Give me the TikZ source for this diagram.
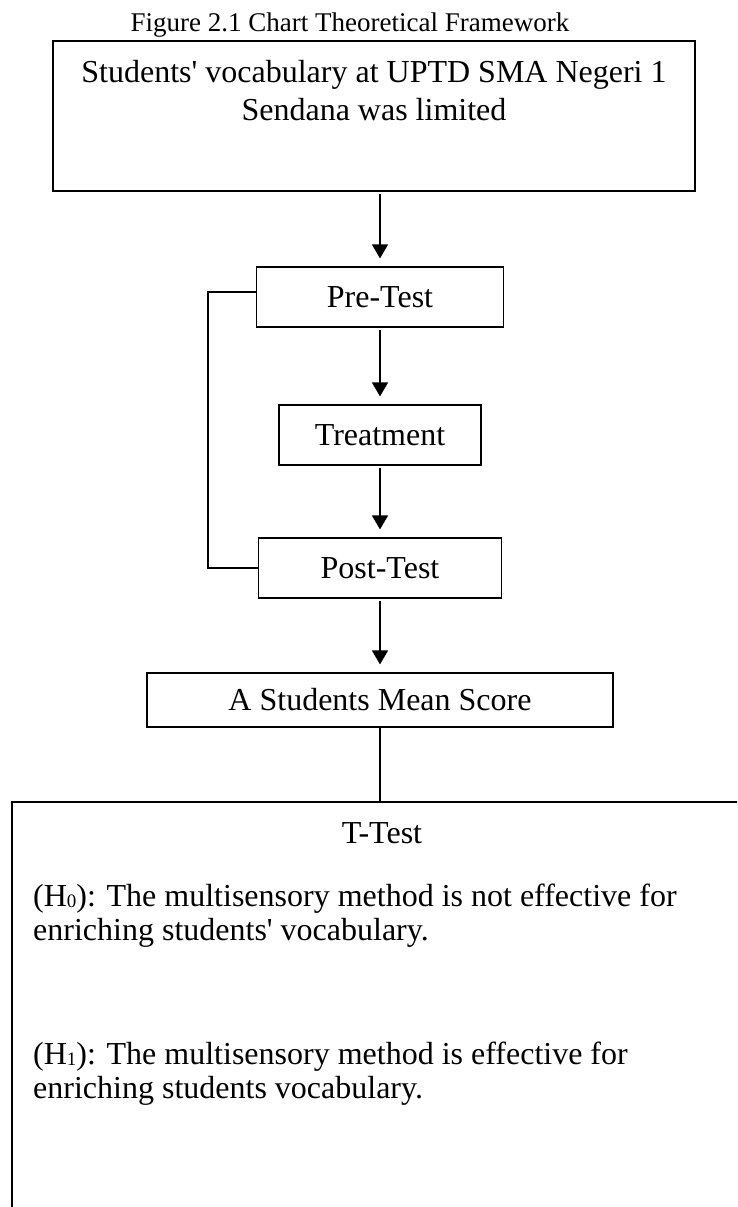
\documentclass[tikz,border=0pt]{standalone}
\usepackage{fontspec}
\setmainfont{Liberation Serif}
\usetikzlibrary{arrows.meta}
\newcommand*\hsub[1]{\raisebox{-1pt}{\fontsize{19}{19}\selectfont#1}}

\begin{document}
\begin{tikzpicture}[x=1pt, y=-1pt,
		box/.style={draw, line width=1.2pt, inner sep=0pt, font=\fontsize{32}{38}\selectfont},
		txt/.style={inner sep=0pt, font=\fontsize{32}{34}\selectfont},
		arr/.style={line width=1.4pt, -{Triangle[length=14pt, width=16pt]}, shorten <=2pt, shorten >=8pt},
		ln/.style={line width=1.4pt}]
				\useasboundingbox (0,0) rectangle (737,1207);
				\clip (0,0) rectangle (737,1207);

				% Title
				\node[txt, font=\fontsize{27}{32}\selectfont, anchor=base] (title) at (350,32) {Figure 2.1 Chart Theoretical Framework};

				% Problem
				\node[box, minimum width=642, minimum height=150] (problem) at (374,116) {};
				\node[txt, font=\fontsize{32}{38}\selectfont, align=center, anchor=north] (problemtext) at (374,60) {Students\textquotesingle{} vocabulary at UPTD SMA Negeri 1\\Sendana was limited};

				% Steps
				\node[box, minimum width=247, minimum height=60] (pre) at (380,297) {Pre-Test};
				\node[box, minimum width=202, minimum height=60] (treat) at (380,435) {Treatment};
				\node[box, minimum width=243, minimum height=60] (post) at (380,568) {Post-Test};
				\node[box, minimum width=466, minimum height=54] (mean) at (380,700) {A Students Mean Score};

				% T-Test
				\node[box, minimum width=768, minimum height=440] (ttest) at (396,1022) {};
				\node[txt, anchor=base] (ttesttitle) at (382,843) {T-Test};
				\node[txt, align=left, anchor=north west] (hnull) at (33,884) {(H\hsub{0}): The multisensory method is not effective for\\enriching students\textquotesingle{} vocabulary.};
				\node[txt, align=left, anchor=north west] (halt) at (33,1042) {(H\hsub{1}): The multisensory method is effective for\\enriching students vocabulary.};

				% Arrows
				\draw[arr] (pre.north |- problem.south) -- (pre.north);
				\draw[arr] (pre.south) -- (treat.north);
				\draw[arr] (treat.south) -- (post.north);
				\draw[arr] (post.south) -- (mean.north);
				\draw[ln] (mean.south) -- (mean.south |- ttest.north);

				% Loop
				\draw[ln] ([yshift=5pt]pre.west) -| ([xshift=-50pt]post.west) -- (post.west);
\end{tikzpicture}
\end{document}
